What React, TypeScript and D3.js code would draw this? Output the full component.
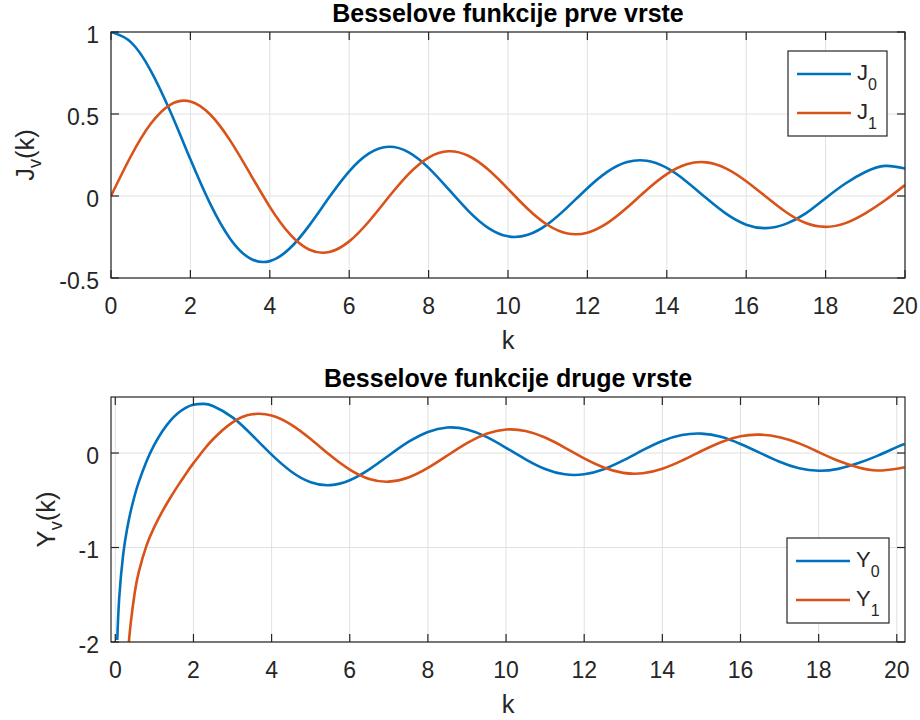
import React from 'react';
import * as d3 from 'd3';

// Besselove funkcije prve vrste (vrijednosti ocitane s grafa)
const kFirst = [
  0, 0.5, 1, 1.5, 2, 2.5, 3, 3.5, 4, 4.5, 5, 5.5, 6, 6.5, 7, 7.5, 8, 8.5, 9, 9.5,
  10, 10.5, 11, 11.5, 12, 12.5, 13, 13.5, 14, 14.5, 15, 15.5, 16, 16.5, 17, 17.5,
  18, 18.5, 19, 19.5, 20,
];
const j0 = [
  1.0, 0.9385, 0.7652, 0.5118, 0.2239, -0.0484, -0.2601, -0.3801, -0.3971, -0.3205,
  -0.1776, -0.0068, 0.1506, 0.2601, 0.3001, 0.2663, 0.1717, 0.0419, -0.0903, -0.1939,
  -0.2459, -0.2366, -0.1712, -0.0677, 0.0477, 0.1469, 0.2069, 0.215, 0.1711, 0.0875,
  -0.0142, -0.1092, -0.1749, -0.196, -0.1699, -0.1061, -0.0134, 0.0762, 0.1466, 0.1835,
  0.167,
];
const j1 = [
  0, 0.2423, 0.4401, 0.5579, 0.5767, 0.4971, 0.3391, 0.1374, -0.066, -0.2311,
  -0.3276, -0.3414, -0.2767, -0.1538, -0.0047, 0.1352, 0.2346, 0.2731, 0.2453, 0.1613,
  0.0435, -0.0789, -0.1768, -0.2284, -0.2234, -0.1655, -0.0703, 0.038, 0.1334, 0.1934,
  0.2051, 0.1672, 0.0904, -0.0047, -0.0977, -0.165, -0.188, -0.1655, -0.1057, -0.0262,
  0.0668,
];

// Besselove funkcije druge vrste
const kSecond = [
  0.05, 0.1, 0.2, 0.3, 0.4, 0.5, 0.6, 0.8, 1, 1.2, 1.4, 1.6, 1.8, 2, 2.25, 2.5,
  3, 3.5, 4, 4.5, 5, 5.5, 6, 6.5, 7, 7.5, 8, 8.5, 9, 9.5, 10, 10.5, 11, 11.5, 12,
  12.5, 13, 13.5, 14, 14.5, 15, 15.5, 16, 16.5, 17, 17.5, 18, 18.5, 19, 19.5, 20, 20.2,
];
const y0 = [
  -1.979, -1.5342, -1.0811, -0.8073, -0.606, -0.4445, -0.3085, -0.0868, 0.0883, 0.2281,
  0.3379, 0.4204, 0.4774, 0.5104, 0.52, 0.4981,
  0.3769, 0.189, -0.0169, -0.1947, -0.3085, -0.3395, -0.2882, -0.1732, -0.0259, 0.1173,
  0.2235, 0.2702, 0.2499, 0.1712, 0.0557, -0.066, -0.1688, -0.2252, -0.2252, -0.1712,
  -0.0782, 0.03, 0.1272, 0.1902, 0.2055, 0.1717, 0.0958, 0.0017, -0.0926, -0.1615,
  -0.1875, -0.1677, -0.1092, -0.0305, 0.0626, 0.095,
];
const y1: (number | null)[] = [
  null, null, -3.3238, -2.2931, -1.7809, -1.4715, -1.2604, -0.9781, -0.7812, -0.6211,
  -0.4791, -0.3476, -0.2237, -0.107, 0.026, 0.1459,
  0.3247, 0.4102, 0.3979, 0.301, 0.1479, -0.0238, -0.175, -0.2741, -0.3027, -0.2591,
  -0.1581, -0.0262, 0.1043, 0.2032, 0.249, 0.2337, 0.1637, 0.0579, -0.0571, -0.1538,
  -0.2101, -0.214, -0.1666, -0.081, 0.0211, 0.1148, 0.1779, 0.1947, 0.1672, 0.1022,
  0.0101, -0.0815, -0.1502, -0.1846, -0.1655, -0.15,
];

const xTicks = [0, 2, 4, 6, 8, 10, 12, 14, 16, 18, 20];
const yTicksFirst = [-0.5, 0, 0.5, 1];
const yTicksSecond = [-2, -1, 0];

const BLUE = '#0072BD';
const ORANGE = '#D95319';
const AXIS = '#262626';
const GRID = '#e1e1e1';
const FONT = '"Liberation Sans", Arial, Helvetica, sans-serif';

type Series = { k: number[]; v: (number | null)[]; color: string; name: string; sub: string };

type PanelProps = {
  id: string;
  left: number;
  right: number;
  top: number;
  bottom: number;
  xDomain: [number, number];
  yDomain: [number, number];
  yTicks: number[];
  title: string;
  yMain: string;
  yLabelX: number;
  series: Series[];
  legend: { x: number; y: number; w: number; h: number };
};

function Panel(p: PanelProps) {
  const x = d3.scaleLinear().domain(p.xDomain).range([p.left, p.right]);
  const y = d3.scaleLinear().domain(p.yDomain).range([p.bottom, p.top]);
  const cx = (p.left + p.right) / 2;
  const cy = (p.top + p.bottom) / 2;

  return (
    <g>
      <defs>
        <clipPath id={`clip-${p.id}`}>
          <rect x={p.left} y={p.top} width={p.right - p.left} height={p.bottom - p.top} />
        </clipPath>
      </defs>
      <rect x={p.left} y={p.top} width={p.right - p.left} height={p.bottom - p.top} fill="#fff" />

      {/* grid */}
      {xTicks.map((t) => (
        <line key={`gx${t}`} x1={x(t)} x2={x(t)} y1={p.top} y2={p.bottom} stroke={GRID} strokeWidth={1} />
      ))}
      {p.yTicks.map((t) => (
        <line key={`gy${t}`} x1={p.left} x2={p.right} y1={y(t)} y2={y(t)} stroke={GRID} strokeWidth={1} />
      ))}

      {/* krivulje */}
      <g clipPath={`url(#clip-${p.id})`}>
        {p.series.map((s) => {
          const pts = s.k.map((k, i) => [k, s.v[i]] as [number, number | null]);
          const line = d3
            .line<[number, number | null]>()
            .defined((d) => d[1] !== null)
            .x((d) => x(d[0]))
            .y((d) => y(d[1] as number))
            .curve(d3.curveNatural);
          return (
            <path key={s.name + s.sub} d={line(pts) || ''} fill="none" stroke={s.color} strokeWidth={2.6} strokeLinejoin="round" />
          );
        })}
      </g>

      {/* okvir i oznake */}
      <rect x={p.left} y={p.top} width={p.right - p.left} height={p.bottom - p.top} fill="none" stroke={AXIS} strokeWidth={1.2} />
      {xTicks.map((t) => (
        <g key={`tx${t}`}>
          <line x1={x(t)} x2={x(t)} y1={p.bottom} y2={p.bottom - 8} stroke={AXIS} strokeWidth={1.2} />
          <line x1={x(t)} x2={x(t)} y1={p.top} y2={p.top + 8} stroke={AXIS} strokeWidth={1.2} />
          <text x={x(t)} y={p.bottom + 36} textAnchor="middle" fontSize={23} fill={AXIS}>
            {String(t)}
          </text>
        </g>
      ))}
      {p.yTicks.map((t) => (
        <g key={`ty${t}`}>
          <line x1={p.left} x2={p.left + 8} y1={y(t)} y2={y(t)} stroke={AXIS} strokeWidth={1.2} />
          <line x1={p.right} x2={p.right - 8} y1={y(t)} y2={y(t)} stroke={AXIS} strokeWidth={1.2} />
          <text x={p.left - 12} y={y(t) + 10.5} textAnchor="end" fontSize={23} fill={AXIS}>
            {String(t)}
          </text>
        </g>
      ))}

      <text x={cx} y={p.top - 10} textAnchor="middle" fontSize={25} fontWeight="bold" fill="#000">
        {p.title}
      </text>
      <text x={cx} y={p.bottom + 71} textAnchor="middle" fontSize={25.5} fill={AXIS}>
        k
      </text>
      <text transform={`translate(${p.yLabelX},${cy}) rotate(-90)`} textAnchor="middle" fontSize={25.5} fill={AXIS}>
        <tspan>{p.yMain}</tspan>
        <tspan dy={7} fontSize={18}>v</tspan>
        <tspan dy={-7}>(k)</tspan>
      </text>

      {/* legenda */}
      <rect x={p.legend.x} y={p.legend.y} width={p.legend.w} height={p.legend.h} fill="#fff" stroke={AXIS} strokeWidth={1.2} />
      {p.series.map((s, i) => {
        const ly = p.legend.y + 23 + i * 39;
        return (
          <g key={`lg${i}`}>
            <line x1={p.legend.x + 9} x2={p.legend.x + 63} y1={ly} y2={ly} stroke={s.color} strokeWidth={2.6} />
            <text x={p.legend.x + 69} y={ly + 6} fontSize={22} fill={AXIS}>
              <tspan>{s.name}</tspan>
              <tspan dy={10} fontSize={16}>{s.sub}</tspan>
            </text>
          </g>
        );
      })}
    </g>
  );
}

export default function App() {
  return (
    <svg
      width={920}
      height={720}
      viewBox="0 0 920 720"
      style={{ position: 'absolute', left: 0, top: 0, background: '#fff', fontFamily: FONT }}
    >
      <rect width={920} height={720} fill="#fff" />
      <Panel
        id="prva"
        left={111}
        right={905}
        top={32}
        bottom={278}
        xDomain={[0, 20]}
        yDomain={[-0.5, 1]}
        yTicks={yTicksFirst}
        title="Besselove funkcije prve vrste"
        yMain="J"
        yLabelX={34}
        series={[
          { k: kFirst, v: j0, color: BLUE, name: 'J', sub: '0' },
          { k: kFirst, v: j1, color: ORANGE, name: 'J', sub: '1' },
        ]}
        legend={{ x: 788, y: 51, w: 99, h: 85 }}
      />
      <Panel
        id="druga"
        left={111}
        right={905}
        top={397}
        bottom={642}
        xDomain={[-0.11, 20.21]}
        yDomain={[-2, 0.593]}
        yTicks={yTicksSecond}
        title="Besselove funkcije druge vrste"
        yMain="Y"
        yLabelX={55}
        series={[
          { k: kSecond, v: y0, color: BLUE, name: 'Y', sub: '0' },
          { k: kSecond, v: y1, color: ORANGE, name: 'Y', sub: '1' },
        ]}
        legend={{ x: 787, y: 538, w: 102, h: 85 }}
      />
    </svg>
  );
}
